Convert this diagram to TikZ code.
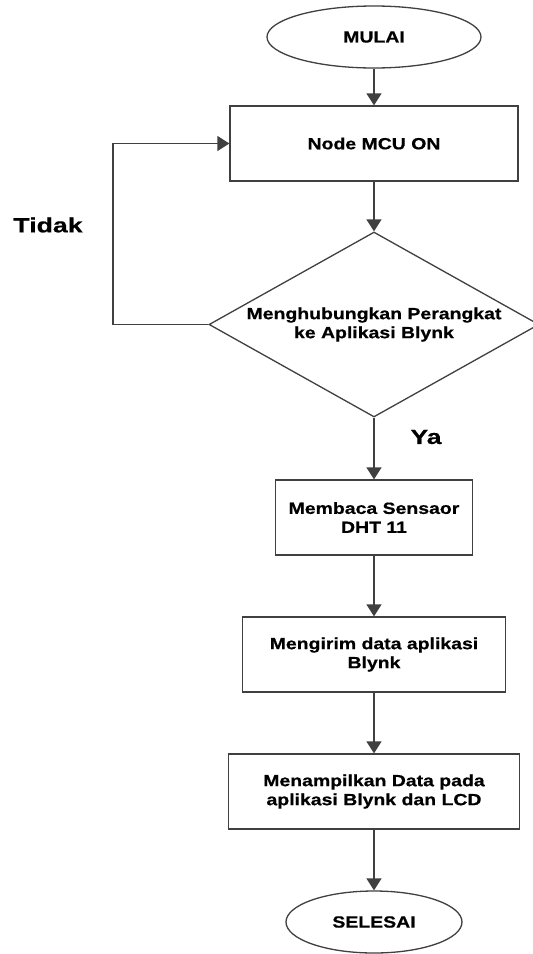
\documentclass[tikz,border=0pt]{standalone}
\usepackage{fontspec}
\setmainfont[FakeStretch=1.2,BoldFeatures={FakeBold=0.6}]{Liberation Sans}
\newfontfamily\lblfont[FakeStretch=1.3,BoldFeatures={FakeBold=0.4}]{Liberation Sans}
\usetikzlibrary{shapes.geometric,arrows.meta}
\tikzset{
  base/.style={draw=black!75, line width=1.3pt, align=center, inner sep=0pt,
    font=\fontsize{16.2}{19}\selectfont\bfseries, text=black},
  term/.style={base, ellipse, minimum height=62pt},
  proc/.style={base, rectangle, minimum height=75pt},
  decision/.style={base, diamond, aspect=1.78, minimum width=330pt, minimum height=185pt},
  lbl/.style={font=\lblfont\fontsize{20.5}{24}\selectfont\bfseries, text=black, inner sep=0pt},
  arr/.style={draw=black!75, line width=1.3pt, -{Triangle[width=15pt,length=12pt]}},
  ln/.style={draw=black!75, line width=1.3pt}
}
\begin{document}
\begin{tikzpicture}[x=1pt,y=-1pt]
\clip (0,0) rectangle (533,954);
\fill[white] (0,0) rectangle (533,954);
\node[term, minimum width=214pt] (start) at (374,37) {MULAI};
\node[proc, minimum width=288pt] (mcu) at (374,143.5) {Node MCU ON};
\node[decision] (dec) at (374,324.5) {Menghubungkan Perangkat\\ke Aplikasi Blynk};
\node[proc, minimum width=197pt] (dht) at (374,517.5) {Membaca Sensaor\\DHT 11};
\node[proc, minimum width=263pt] (send) at (374,654.5) {Mengirim data aplikasi\\Blynk};
\node[proc, minimum width=291pt] (show) at (374,791.5) {Menampilkan Data pada\\aplikasi Blynk dan LCD};
\node[term, minimum width=176pt] (end) at (374,922) {SELESAI};
\coordinate (lb) at (113,324.5);
\coordinate (lt) at (113,143.5);
\draw[arr] (start) -- (mcu);
\draw[arr] (mcu) -- (dec);
\draw[arr] (dec) -- (dht);
\draw[arr] (dht) -- (send);
\draw[arr] (send) -- (show);
\draw[arr] (show) -- (end);
\draw[arr] (dec.west) -- (lb) -- (lt) -- (mcu.west);
\node[lbl] (tidak) at (48,225) {Tidak};
\node[lbl] (ya) at (426,437) {Ya};
\end{tikzpicture}
\end{document}
